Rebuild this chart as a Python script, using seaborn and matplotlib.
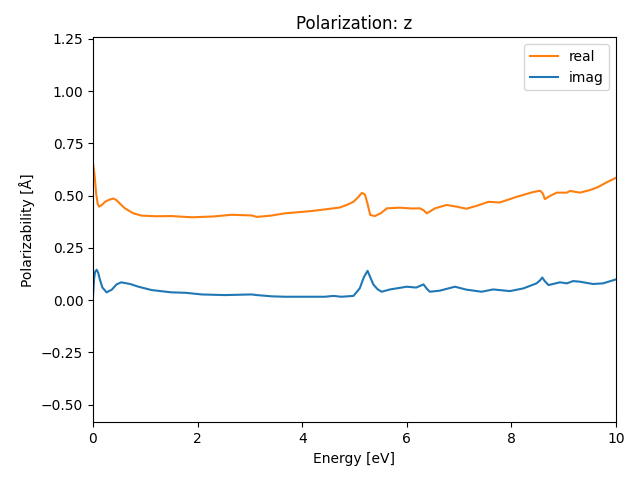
import numpy as np
import pandas as pd
import matplotlib
matplotlib.use('Agg')
import matplotlib.pyplot as plt
import seaborn as sns

# real part
energy_real = [0.0, 0.03, 0.06, 0.09, 0.115, 0.17, 0.23, 0.31, 0.39, 0.45, 0.53, 0.61, 0.77,
               0.93, 1.2, 1.5, 1.89, 2.3, 2.65, 2.9, 3.03, 3.13, 3.4, 3.67, 4.18, 4.6, 4.72,
               4.85, 4.98, 5.07, 5.14, 5.2, 5.25, 5.3, 5.39, 5.5, 5.62, 5.87, 6.1, 6.25,
               6.32, 6.38, 6.45, 6.54, 6.76, 6.95, 7.14, 7.35, 7.56, 7.78, 8.1, 8.42, 8.55,
               8.6, 8.64, 8.75, 8.87, 9.06, 9.12, 9.31, 9.5, 9.65, 9.82, 10.0]
real = [0.654, 0.6, 0.51, 0.46, 0.447, 0.455, 0.47, 0.48, 0.486, 0.478, 0.458, 0.439, 0.415,
        0.404, 0.401, 0.402, 0.396, 0.4, 0.408, 0.406, 0.405, 0.398, 0.404, 0.415, 0.426,
        0.439, 0.443, 0.455, 0.47, 0.492, 0.513, 0.505, 0.46, 0.407, 0.402, 0.415, 0.439,
        0.442, 0.438, 0.439, 0.43, 0.415, 0.425, 0.439, 0.455, 0.447, 0.437, 0.452, 0.47,
        0.467, 0.494, 0.517, 0.523, 0.51, 0.483, 0.5, 0.514, 0.514, 0.522, 0.514, 0.526,
        0.54, 0.563, 0.585]

# imaginary part
energy_imag = [0.0, 0.02, 0.04, 0.07, 0.1, 0.13, 0.18, 0.26, 0.36, 0.45, 0.54, 0.71, 0.87,
               1.12, 1.5, 1.77, 2.08, 2.52, 3.03, 3.13, 3.42, 3.67, 4.43, 4.6, 4.75, 4.98,
               5.1, 5.18, 5.25, 5.3, 5.36, 5.44, 5.52, 5.68, 6.0, 6.18, 6.32, 6.38, 6.44,
               6.63, 6.92, 7.14, 7.43, 7.65, 7.97, 8.23, 8.48, 8.55, 8.59, 8.64, 8.71, 8.93,
               9.06, 9.18, 9.31, 9.56, 9.75, 10.0]
imag = [0.016, 0.1, 0.135, 0.145, 0.13, 0.1, 0.06, 0.037, 0.05, 0.075, 0.085, 0.077, 0.064,
        0.048, 0.037, 0.035, 0.027, 0.024, 0.027, 0.024, 0.018, 0.016, 0.016, 0.02, 0.016,
        0.02, 0.056, 0.11, 0.14, 0.11, 0.075, 0.052, 0.04, 0.051, 0.064, 0.06, 0.075, 0.055,
        0.04, 0.045, 0.064, 0.05, 0.04, 0.051, 0.043, 0.056, 0.08, 0.095, 0.108, 0.09,
        0.072, 0.085, 0.08, 0.091, 0.088, 0.077, 0.08, 0.099]

fig, ax = plt.subplots(figsize=(6.4, 4.8), dpi=100)
sns.lineplot(x=energy_real, y=real, ax=ax, color='tab:orange', label='real')
sns.lineplot(x=energy_imag, y=imag, ax=ax, color='tab:blue', label='imag')

ax.set_xlim(0, 10)
ax.set_ylim(-0.585, 1.257)
ax.set_title('Polarization: z')
ax.set_xlabel('Energy [eV]')
ax.set_ylabel('Polarizability [Å]')
ax.legend(loc='upper right')

fig.subplots_adjust(left=0.1453, right=0.9625, top=0.9223, bottom=0.12)
plt.savefig('out.png', dpi=100)
